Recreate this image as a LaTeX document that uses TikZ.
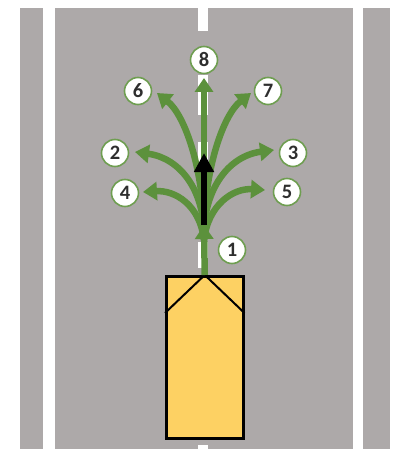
\documentclass[tikz,border=0pt]{standalone}
\usepackage{fontspec}
\setmainfont{Carlito}
\usetikzlibrary{arrows.meta}
\definecolor{road}{HTML}{ADA9A9}
\definecolor{leaf}{HTML}{5C913C}
\definecolor{ring}{HTML}{6E9E50}
\definecolor{carfill}{HTML}{FDD163}
\definecolor{digit}{HTML}{2E2E2E}
\tikzset{
  lane/.style={fill=road, draw=none},
  paint/.style={fill=white, draw=none},
  route/.style={draw=leaf, line width=6.5pt, -{Triangle[width=18pt,length=14pt]}},
  heading/.style={draw=black, line width=6pt, -{Triangle[width=19pt,length=19pt]}},
  badge/.style={circle, fill=white, draw=ring, line width=1.6pt, minimum size=27pt,
    inner sep=0pt, text=digit, font=\fontsize{20.5}{20.5}\selectfont\bfseries},
  car/.style={fill=carfill, draw=black, line width=2.5pt}
}
\begin{document}
\begin{tikzpicture}[x=1pt, y=-1pt]
\useasboundingbox (0,0) rectangle (395,449);
% road surface
\fill[lane] (20,8) rectangle (390,449);
% edge lines
\fill[paint] (43,8) rectangle (55,449);
\fill[paint] (353,8) rectangle (363,449);
% centre line dashes
\foreach \a/\b in {8/31, 75/115, 142/168, 242/268, 445/449}
  \fill[paint] (198,\a) rectangle (208,\b);

% route origin and end points
\coordinate (o)  at (204,235);
\coordinate (o2) at (204,240);
\coordinate (e8) at (204,78);
\coordinate (e6) at (157,93);
\coordinate (e7) at (251,93);
\coordinate (e2) at (135,152);
\coordinate (e3) at (274,150);
\coordinate (e4) at (143,192);
\coordinate (e5) at (265,190);
\coordinate (hs) at (204,225);
\coordinate (ht) at (204,153);

% turning routes
\draw[route] (o) .. controls (204,170) and (185,115) .. (e6);
\draw[route] (o) .. controls (204,170) and (223,115) .. (e7);
\draw[route] (o) .. controls (204,190) and (180,158) .. (e2);
\draw[route] (o) .. controls (204,190) and (228,156) .. (e3);
\draw[route] (o2) .. controls (200,205) and (175,190) .. (e4);
\draw[route] (o2) .. controls (208,205) and (233,188) .. (e5);
% straight ahead
\draw[route] (o) -- (e8);
% current heading
\draw[heading] (hs) -- (ht);

% vehicle
\node[car, minimum width=77pt, minimum height=162pt, inner sep=0pt, anchor=north west] (veh) at (165,275) {};
\draw[line width=2pt] (veh.north west |- 0,313) -- (veh.north) -- (veh.north east |- 0,313);
% route leaving the vehicle
\draw[route] (veh.north) -- (hs);

% route labels
\node[badge] (n1) at (232,250) {1};
\node[badge] (n2) at (115,153) {2};
\node[badge] (n3) at (293,153) {3};
\node[badge] (n4) at (125,193) {4};
\node[badge] (n5) at (287,192) {5};
\node[badge] (n6) at (138,91) {6};
\node[badge] (n7) at (268,91) {7};
\node[badge] (n8) at (204,60) {8};
\end{tikzpicture}
\end{document}
